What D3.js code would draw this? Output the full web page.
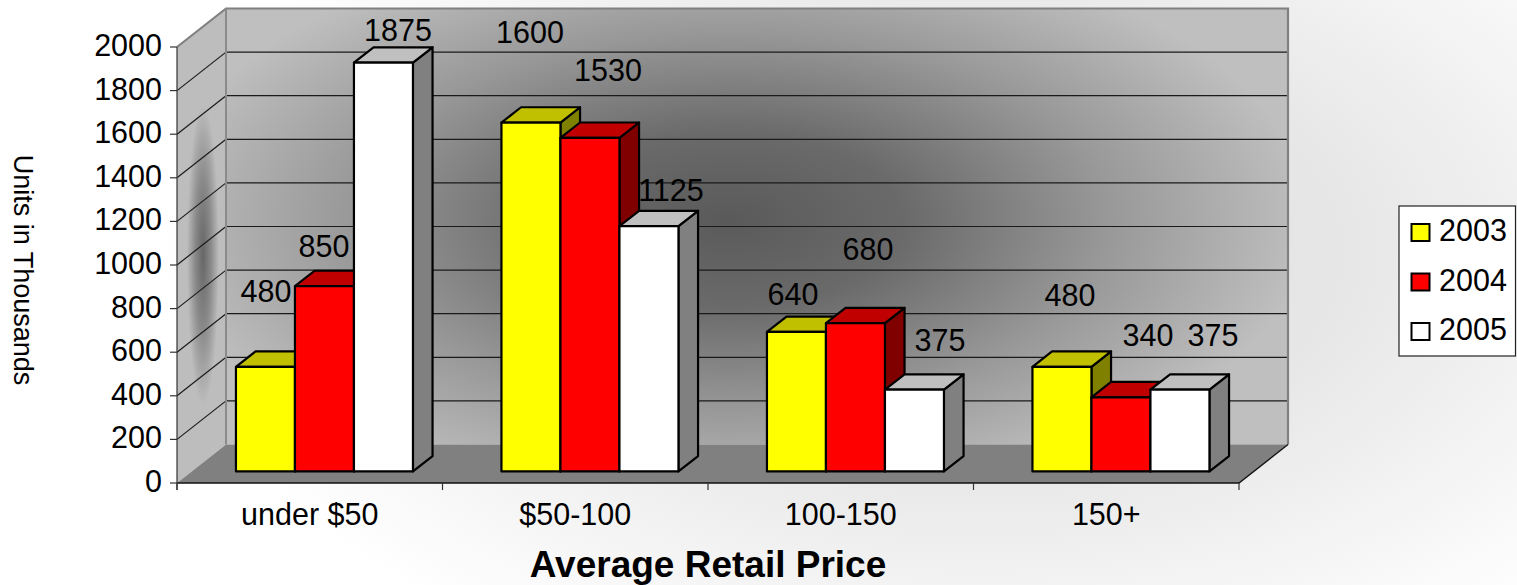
<!DOCTYPE html>
<html><head><meta charset="utf-8">
<script src="https://cdn.jsdelivr.net/npm/d3@7"></script>
<style>
body{margin:0;background:#fff}
svg{display:block}
text{font-family:"Liberation Sans",Arial,Helvetica,sans-serif;fill:#000}
</style>
</head><body>
<svg id="chart" width="1517" height="585"></svg>
<script>
// ---------- data ----------
const categories = ["under $50", "$50-100", "100-150", "150+"];
const seriesNames = ["2003", "2004", "2005"];
const values2003 = [480, 1600, 640, 480];
const values2004 = [850, 1530, 680, 340];
const values2005 = [1875, 1125, 375, 375];
const yTickValues = [0, 200, 400, 600, 800, 1000, 1200, 1400, 1600, 1800, 2000];
const yAxisTitle = "Units in Thousands";
const xAxisTitle = "Average Retail Price";

// ---------- styling (kept apart from data) ----------
const faceColors = [
  {front: "#FFFF00", top: "#C0C000", side: "#808000"},
  {front: "#FF0000", top: "#C00000", side: "#800000"},
  {front: "#FFFFFF", top: "#C0C0C0", side: "#808080"}
];
// manual nudges of the data labels (px), one row per series
const labelNudgeX = [[0.5, -1, -3.5, 8], [-0.5, 18, 12.5, 27], [14.5, 22, 25.5, 33]];
const labelNudgeY = [[-65, -79.6, -27, -61], [-29, -57, -63.7, -51], [-21.7, -25.7, -39, -44]];

const seriesValues = [values2003, values2004, values2005];

// ---------- geometry ----------
const W = 1517, H = 585;
const frontLeft = 177, frontRight = 1239, floorY = 483, topY = 47;
const depthDX = 49, depthDY = -38.5;   // full depth offset
const barFrontDepth = 0.3, barBackDepth = 0.7;

const x = d3.scaleBand().domain(categories).range([frontLeft, frontRight]).padding(0);
const inner = d3.scaleBand().domain(seriesNames).range([0, x.bandwidth()]).paddingInner(0).paddingOuter(0.75);
const y = d3.scaleLinear().domain([0, 2000]).range([floorY, topY]);

const svg = d3.select("#chart");
const defs = svg.append("defs");

// background gradient
const bg = defs.append("radialGradient").attr("id", "bgGrad")
  .attr("gradientUnits", "userSpaceOnUse").attr("cx", 0).attr("cy", 0).attr("r", 1)
  .attr("gradientTransform", "matrix(820,0,0,470,980,250)");
bg.append("stop").attr("offset", 0).attr("stop-color", "#dedede");
bg.append("stop").attr("offset", 0.45).attr("stop-color", "#e7e7e7");
bg.append("stop").attr("offset", 1).attr("stop-color", "#ffffff");

// back wall gradient
const bw = defs.append("radialGradient").attr("id", "wallGrad")
  .attr("gradientUnits", "userSpaceOnUse").attr("cx", 0).attr("cy", 0).attr("r", 1)
  .attr("gradientTransform", "matrix(580,0,0,290,730,220)");
bw.append("stop").attr("offset", 0).attr("stop-color", "#5a5a5a");
bw.append("stop").attr("offset", 0.3).attr("stop-color", "#6a6a6a");
bw.append("stop").attr("offset", 0.65).attr("stop-color", "#989898");
bw.append("stop").attr("offset", 1).attr("stop-color", "#bfbfbf");

// side wall gradient
const sw = defs.append("radialGradient").attr("id", "sideGrad")
  .attr("gradientUnits", "userSpaceOnUse").attr("cx", 0).attr("cy", 0).attr("r", 1)
  .attr("gradientTransform", "matrix(16,0,0,150,203,255)");
sw.append("stop").attr("offset", 0).attr("stop-color", "#666666");
sw.append("stop").attr("offset", 0.5).attr("stop-color", "#8a8a8a");
sw.append("stop").attr("offset", 1).attr("stop-color", "#bdbdbd");

svg.append("rect").attr("width", W).attr("height", H).attr("fill", "url(#bgGrad)");

const backLeft = frontLeft + depthDX, backRight = frontRight + depthDX;
const backY = v => y(v) + depthDY;

// back wall
svg.append("rect").attr("x", backLeft).attr("y", backY(2000))
  .attr("width", backRight - backLeft).attr("height", backY(0) - backY(2000))
  .attr("fill", "url(#wallGrad)");
// side wall
svg.append("polygon")
  .attr("points", [[frontLeft, y(2000)], [backLeft, backY(2000)], [backLeft, backY(0)], [frontLeft, y(0)]].join(" "))
  .attr("fill", "url(#sideGrad)");
// floor
svg.append("polygon")
  .attr("points", [[frontLeft, y(0)], [frontRight, y(0)], [backRight, backY(0)], [backLeft, backY(0)]].join(" "))
  .attr("fill", "#808080");

// gridlines
const gridVals = yTickValues.filter(v => v > 0 && v < 2000);
svg.append("g").selectAll("line.bg").data(gridVals).join("line")
  .attr("x1", backLeft).attr("x2", backRight)
  .attr("y1", d => backY(d)).attr("y2", d => backY(d))
  .attr("stroke", "#1a1a1a").attr("stroke-width", 1.2);
svg.append("g").selectAll("line.sg").data(gridVals).join("line")
  .attr("x1", frontLeft).attr("x2", backLeft)
  .attr("y1", d => y(d)).attr("y2", d => backY(d))
  .attr("stroke", "#1a1a1a").attr("stroke-width", 1.2);

// wall borders (gray)
svg.append("path")
  .attr("d", `M${frontLeft},${y(2000)} L${backLeft},${backY(2000)} L${backRight},${backY(2000)} L${backRight},${backY(0)}`)
  .attr("fill", "none").attr("stroke", "#808080").attr("stroke-width", 2.2);
svg.append("line").attr("x1", backLeft).attr("x2", backLeft).attr("y1", backY(2000)).attr("y2", backY(0))
  .attr("stroke", "#8a8a8a").attr("stroke-width", 2);

// floor edges
svg.append("path")
  .attr("d", `M${frontLeft},${y(0)} L${frontRight},${y(0)} L${backRight},${backY(0)}`)
  .attr("fill", "none").attr("stroke", "#111").attr("stroke-width", 1.3);

// y axis line + ticks + labels
svg.append("line").attr("x1", frontLeft).attr("x2", frontLeft).attr("y1", y(2000)).attr("y2", y(0) + 7)
  .attr("stroke", "#333").attr("stroke-width", 1.2);
const yAxisG = svg.append("g");
yAxisG.selectAll("line").data(yTickValues).join("line")
  .attr("x1", frontLeft - 7).attr("x2", frontLeft)
  .attr("y1", d => y(d)).attr("y2", d => y(d))
  .attr("stroke", "#333").attr("stroke-width", 1.2);
yAxisG.selectAll("text").data(yTickValues).join("text")
  .attr("x", frontLeft - 15).attr("y", d => y(d) + 9)
  .attr("text-anchor", "end").attr("font-size", 30.5)
  .text(d => d);

// x axis ticks + labels
const xTickPos = categories.map(c => x(c)).concat([frontRight]);
svg.append("g").selectAll("line").data(xTickPos).join("line")
  .attr("x1", d => d).attr("x2", d => d).attr("y1", y(0)).attr("y2", y(0) + 7)
  .attr("stroke", "#333").attr("stroke-width", 1.2);
svg.append("g").selectAll("text").data(categories).join("text")
  .attr("x", d => x(d) + x.bandwidth() / 2).attr("y", 525)
  .attr("text-anchor", "middle").attr("font-size", 30.5)
  .text(d => d);

// axis titles
svg.append("text").attr("x", (frontLeft + frontRight) / 2).attr("y", 577)
  .attr("text-anchor", "middle").attr("font-size", 37).attr("font-weight", "bold")
  .text(xAxisTitle);
svg.append("text").attr("transform", "translate(23,270) rotate(90)")
  .attr("text-anchor", "middle").attr("dominant-baseline", "central").attr("font-size", 27)
  .text(yAxisTitle);

// bars data
const bars = [];
categories.forEach((c, ci) => {
  seriesNames.forEach((s, si) => {
    bars.push({cat: c, ci, s, si, v: seriesValues[si][ci]});
  });
});

const fdx = depthDX * barFrontDepth, fdy = depthDY * barFrontDepth;
const bdx = depthDX * (barBackDepth - barFrontDepth), bdy = depthDY * (barBackDepth - barFrontDepth);
const barX = d => x(d.cat) + inner(d.s) + fdx;
const barTop = d => y(d.v) + fdy;
const barBottom = d => y(0) + fdy;

// data labels (beneath bars)
svg.append("g").selectAll("text").data(bars).join("text")
  .attr("x", d => barX(d) + inner.bandwidth() / 2 + labelNudgeX[d.si][d.ci])
  .attr("y", d => barTop(d) + labelNudgeY[d.si][d.ci])
  .attr("text-anchor", "middle").attr("font-size", 30.5)
  .text(d => d.v);

// 3D bars
const bw_ = inner.bandwidth();
const barG = svg.append("g").selectAll("g").data(bars).join("g")
  .attr("stroke", "#000").attr("stroke-width", 2.2).attr("stroke-linejoin", "round");
barG.append("polygon")
  .attr("points", d => {
    const x0 = barX(d), t = barTop(d), b = barBottom(d);
    return [[x0 + bw_, t], [x0 + bw_ + bdx, t + bdy], [x0 + bw_ + bdx, b + bdy], [x0 + bw_, b]].join(" ");
  })
  .attr("fill", d => faceColors[d.si].side);
barG.append("polygon")
  .attr("points", d => {
    const x0 = barX(d), t = barTop(d);
    return [[x0, t], [x0 + bdx, t + bdy], [x0 + bw_ + bdx, t + bdy], [x0 + bw_, t]].join(" ");
  })
  .attr("fill", d => faceColors[d.si].top);
barG.append("rect")
  .attr("x", d => barX(d)).attr("y", d => barTop(d))
  .attr("width", bw_).attr("height", d => barBottom(d) - barTop(d))
  .attr("fill", d => faceColors[d.si].front);

// legend
const lg = svg.append("g");
lg.append("rect").attr("x", 1399).attr("y", 206).attr("width", 116.5).attr("height", 150)
  .attr("fill", "#fff").attr("stroke", "#222").attr("stroke-width", 1.2);
const li = lg.selectAll("g").data(seriesNames).join("g")
  .attr("transform", (d, i) => `translate(0,${i * 49.5})`);
li.append("rect").attr("x", 1411.5).attr("y", 224).attr("width", 18).attr("height", 17)
  .attr("fill", (d, i) => faceColors[i].front).attr("stroke", "#000").attr("stroke-width", 2);
li.append("text").attr("x", 1439).attr("y", 241).attr("font-size", 30.5).text(d => d);
</script>
</body></html>
